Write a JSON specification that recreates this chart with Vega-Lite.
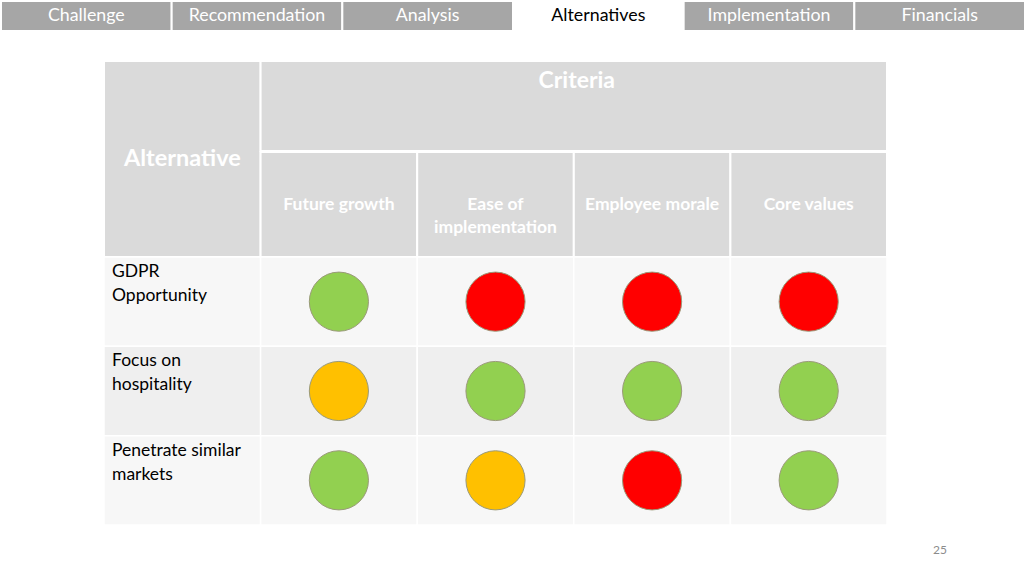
{
  "$schema": "https://vega.github.io/schema/vega-lite/v6.json",
  "width": 1024,
  "height": 576,
  "autosize": {"type": "fit", "contains": "padding"},
  "padding": 0,
  "background": "#ffffff",
  "config": {"view": {"stroke": null}, "font": "Lato"},
  "datasets": {
    "tabs": [
      {"tab": "Challenge", "status": "other"},
      {"tab": "Recommendation", "status": "other"},
      {"tab": "Analysis", "status": "other"},
      {"tab": "Alternatives", "status": "current"},
      {"tab": "Implementation", "status": "other"},
      {"tab": "Financials", "status": "other"}
    ],
    "headings": [
      {"heading": "Alternative"},
      {"heading": "Criteria"}
    ],
    "criteria": [
      {"criterion": "Future growth", "label": "Future growth"},
      {"criterion": "Ease of implementation", "label": "Ease of\nimplementation"},
      {"criterion": "Employee morale", "label": "Employee morale"},
      {"criterion": "Core values", "label": "Core values"}
    ],
    "alternatives": [
      {"alternative": "GDPR Opportunity", "label": "GDPR\nOpportunity"},
      {"alternative": "Focus on hospitality", "label": "Focus on\nhospitality"},
      {"alternative": "Penetrate similar markets", "label": "Penetrate similar\nmarkets"}
    ],
    "ratings": [
      {"alternative": "GDPR Opportunity", "criterion": "Future growth", "rating": "good"},
      {"alternative": "GDPR Opportunity", "criterion": "Ease of implementation", "rating": "poor"},
      {"alternative": "GDPR Opportunity", "criterion": "Employee morale", "rating": "poor"},
      {"alternative": "GDPR Opportunity", "criterion": "Core values", "rating": "poor"},
      {"alternative": "Focus on hospitality", "criterion": "Future growth", "rating": "medium"},
      {"alternative": "Focus on hospitality", "criterion": "Ease of implementation", "rating": "good"},
      {"alternative": "Focus on hospitality", "criterion": "Employee morale", "rating": "good"},
      {"alternative": "Focus on hospitality", "criterion": "Core values", "rating": "good"},
      {"alternative": "Penetrate similar markets", "criterion": "Future growth", "rating": "good"},
      {"alternative": "Penetrate similar markets", "criterion": "Ease of implementation", "rating": "medium"},
      {"alternative": "Penetrate similar markets", "criterion": "Employee morale", "rating": "poor"},
      {"alternative": "Penetrate similar markets", "criterion": "Core values", "rating": "good"}
    ],
    "page": [{"page": "25"}]
  },
  "resolve": {"scale": {"x": "independent", "y": "independent", "fill": "independent", "color": "independent"}},
  "layer": [
    {
      "data": {"name": "tabs"},
      "mark": {"type": "rect", "stroke": "#ffffff", "strokeWidth": 2},
      "encoding": {
        "x": {"field": "tab", "type": "nominal", "sort": null, "axis": null,
          "scale": {"type": "band", "domain": ["Challenge", "Recommendation", "Analysis", "Alternatives", "Implementation", "Financials"], "range": [0, 1024], "paddingInner": 0, "paddingOuter": 0}},
        "y": {"datum": "nav", "type": "nominal", "axis": null,
          "scale": {"type": "band", "domain": ["nav"], "range": [0, 30], "paddingInner": 0, "paddingOuter": 0}},
        "fill": {"condition": {"test": "datum.status === 'current'", "value": "#ffffff"}, "value": "#a6a6a6"}
      }
    },
    {
      "data": {"name": "tabs"},
      "mark": {"type": "text", "fontSize": 17.8, "align": "center", "baseline": "middle"},
      "encoding": {
        "x": {"field": "tab", "type": "nominal", "sort": null, "axis": null,
          "scale": {"type": "band", "domain": ["Challenge", "Recommendation", "Analysis", "Alternatives", "Implementation", "Financials"], "range": [0, 1024], "paddingInner": 0, "paddingOuter": 0}},
        "y": {"datum": "nav", "type": "nominal", "axis": null,
          "scale": {"type": "band", "domain": ["nav"], "range": [0, 30], "paddingInner": 0, "paddingOuter": 0}},
        "text": {"field": "tab", "type": "nominal"},
        "color": {"condition": {"test": "datum.status === 'current'", "value": "#000000"}, "value": "#ffffff"}
      }
    },
    {
      "data": {"name": "headings"},
      "transform": [{"filter": "datum.heading === 'Alternative'"}],
      "mark": {"type": "rect", "fill": "#dadada", "stroke": "#ffffff", "strokeWidth": 2},
      "encoding": {
        "x": {"field": "heading", "type": "nominal", "axis": null,
          "scale": {"type": "band", "domain": ["Alternative", "Future growth", "Ease of implementation", "Employee morale", "Core values"], "range": [103, 886], "paddingInner": 0, "paddingOuter": 0}},
        "y": {"datum": "head", "type": "nominal", "axis": null,
          "scale": {"type": "band", "domain": ["head"], "range": [60, 256], "paddingInner": 0, "paddingOuter": 0}}
      }
    },
    {
      "data": {"name": "headings"},
      "transform": [{"filter": "datum.heading === 'Alternative'"}],
      "mark": {"type": "text", "fontSize": 23.5, "fontWeight": "bold", "color": "#ffffff", "align": "center", "baseline": "middle"},
      "encoding": {
        "x": {"field": "heading", "type": "nominal", "axis": null,
          "scale": {"type": "band", "domain": ["Alternative", "Future growth", "Ease of implementation", "Employee morale", "Core values"], "range": [103, 886], "paddingInner": 0, "paddingOuter": 0}},
        "y": {"datum": "head", "type": "nominal", "axis": null,
          "scale": {"type": "band", "domain": ["head"], "range": [60, 256], "paddingInner": 0, "paddingOuter": 0}},
        "text": {"field": "heading", "type": "nominal"}
      }
    },
    {
      "data": {"name": "headings"},
      "transform": [{"filter": "datum.heading === 'Criteria'"}],
      "mark": {"type": "rect", "fill": "#dadada", "stroke": "#ffffff", "strokeWidth": 2},
      "encoding": {
        "x": {"field": "heading", "type": "nominal", "axis": null,
          "scale": {"type": "band", "domain": ["Criteria"], "range": [259.6, 886], "paddingInner": 0, "paddingOuter": 0}},
        "y": {"datum": "top", "type": "nominal", "axis": null,
          "scale": {"type": "band", "domain": ["top"], "range": [60, 150], "paddingInner": 0, "paddingOuter": 0}}
      }
    },
    {
      "data": {"name": "headings"},
      "transform": [{"filter": "datum.heading === 'Criteria'"}],
      "mark": {"type": "text", "fontSize": 23, "fontWeight": "bold", "color": "#ffffff", "align": "center", "baseline": "middle", "dy": 20, "dx": 3},
      "encoding": {
        "x": {"field": "heading", "type": "nominal", "axis": null,
          "scale": {"type": "band", "domain": ["Criteria"], "range": [259.6, 886], "paddingInner": 0, "paddingOuter": 0}},
        "y": {"datum": "top", "type": "nominal", "axis": null, "bandPosition": 0,
          "scale": {"type": "band", "domain": ["top"], "range": [60, 150], "paddingInner": 0, "paddingOuter": 0}},
        "text": {"field": "heading", "type": "nominal"}
      }
    },
    {
      "data": {"name": "criteria"},
      "mark": {"type": "rect", "fill": "#dadada", "stroke": "#ffffff", "strokeWidth": 2},
      "encoding": {
        "x": {"field": "criterion", "type": "nominal", "axis": null,
          "scale": {"type": "band", "domain": ["Alternative", "Future growth", "Ease of implementation", "Employee morale", "Core values"], "range": [103, 886], "paddingInner": 0, "paddingOuter": 0}},
        "y": {"datum": "sub", "type": "nominal", "axis": null,
          "scale": {"type": "band", "domain": ["sub"], "range": [151, 256], "paddingInner": 0, "paddingOuter": 0}}
      }
    },
    {
      "data": {"name": "criteria"},
      "mark": {"type": "text", "fontSize": 17.5, "fontWeight": "bold", "color": "#ffffff", "align": "center", "baseline": "middle", "lineBreak": "\n", "lineHeight": 23},
      "encoding": {
        "x": {"field": "criterion", "type": "nominal", "axis": null,
          "scale": {"type": "band", "domain": ["Alternative", "Future growth", "Ease of implementation", "Employee morale", "Core values"], "range": [103, 886], "paddingInner": 0, "paddingOuter": 0}},
        "y": {"datum": "sub", "type": "nominal", "axis": null,
          "scale": {"type": "band", "domain": ["sub"], "range": [151, 256], "paddingInner": 0, "paddingOuter": 0}},
        "text": {"field": "label", "type": "nominal"}
      }
    },
    {
      "data": {"name": "alternatives"},
      "mark": {"type": "rect", "stroke": "#ffffff", "strokeWidth": 1.5},
      "encoding": {
        "x": {"datum": "Alternative", "type": "nominal", "axis": null,
          "scale": {"type": "band", "domain": ["Alternative", "Future growth", "Ease of implementation", "Employee morale", "Core values"], "range": [103, 886], "paddingInner": 0, "paddingOuter": 0}},
        "y": {"field": "alternative", "type": "nominal", "axis": null,
          "scale": {"type": "band", "domain": ["GDPR Opportunity", "Focus on hospitality", "Penetrate similar markets"], "range": [256, 524], "paddingInner": 0, "paddingOuter": 0}},
        "fill": {"field": "alternative", "type": "nominal", "legend": null,
          "scale": {"domain": ["GDPR Opportunity", "Focus on hospitality", "Penetrate similar markets"], "range": ["#f7f7f7", "#efefef", "#f7f7f7"]}}
      }
    },
    {
      "data": {"name": "ratings"},
      "mark": {"type": "rect", "stroke": "#ffffff", "strokeWidth": 1.5},
      "encoding": {
        "x": {"field": "criterion", "type": "nominal", "axis": null,
          "scale": {"type": "band", "domain": ["Alternative", "Future growth", "Ease of implementation", "Employee morale", "Core values"], "range": [103, 886], "paddingInner": 0, "paddingOuter": 0}},
        "y": {"field": "alternative", "type": "nominal", "axis": null,
          "scale": {"type": "band", "domain": ["GDPR Opportunity", "Focus on hospitality", "Penetrate similar markets"], "range": [256, 524], "paddingInner": 0, "paddingOuter": 0}},
        "fill": {"field": "alternative", "type": "nominal", "legend": null,
          "scale": {"domain": ["GDPR Opportunity", "Focus on hospitality", "Penetrate similar markets"], "range": ["#f7f7f7", "#efefef", "#f7f7f7"]}}
      }
    },
    {
      "data": {"name": "alternatives"},
      "mark": {"type": "text", "fontSize": 17.5, "color": "#000000", "align": "left", "baseline": "top", "lineBreak": "\n", "lineHeight": 24, "dx": 8, "dy": 6},
      "encoding": {
        "x": {"datum": "Alternative", "type": "nominal", "axis": null, "bandPosition": 0,
          "scale": {"type": "band", "domain": ["Alternative", "Future growth", "Ease of implementation", "Employee morale", "Core values"], "range": [103, 886], "paddingInner": 0, "paddingOuter": 0}},
        "y": {"field": "alternative", "type": "nominal", "axis": null, "bandPosition": 0,
          "scale": {"type": "band", "domain": ["GDPR Opportunity", "Focus on hospitality", "Penetrate similar markets"], "range": [256, 524], "paddingInner": 0, "paddingOuter": 0}},
        "text": {"field": "label", "type": "nominal"}
      }
    },
    {
      "data": {"name": "ratings"},
      "mark": {"type": "point", "shape": "circle", "filled": true, "opacity": 1, "size": 3500, "stroke": "#9a9a7a", "strokeWidth": 1},
      "encoding": {
        "x": {"field": "criterion", "type": "nominal", "axis": null,
          "scale": {"type": "band", "domain": ["Alternative", "Future growth", "Ease of implementation", "Employee morale", "Core values"], "range": [103, 886], "paddingInner": 0, "paddingOuter": 0}},
        "y": {"field": "alternative", "type": "nominal", "axis": null,
          "scale": {"type": "band", "domain": ["GDPR Opportunity", "Focus on hospitality", "Penetrate similar markets"], "range": [256, 524], "paddingInner": 0, "paddingOuter": 0}},
        "fill": {"field": "rating", "type": "nominal", "legend": null,
          "scale": {"domain": ["good", "medium", "poor"], "range": ["#92d050", "#ffc000", "#ff0000"]}}
      }
    },
    {
      "data": {"name": "page"},
      "mark": {"type": "text", "fontSize": 12, "color": "#8c8c8c", "align": "center", "baseline": "middle"},
      "encoding": {
        "x": {"field": "page", "type": "nominal", "axis": null,
          "scale": {"type": "band", "domain": ["25"], "range": [925, 953], "paddingInner": 0, "paddingOuter": 0}},
        "y": {"datum": "foot", "type": "nominal", "axis": null,
          "scale": {"type": "band", "domain": ["foot"], "range": [540, 558], "paddingInner": 0, "paddingOuter": 0}},
        "text": {"field": "page", "type": "nominal"}
      }
    }
  ]
}
